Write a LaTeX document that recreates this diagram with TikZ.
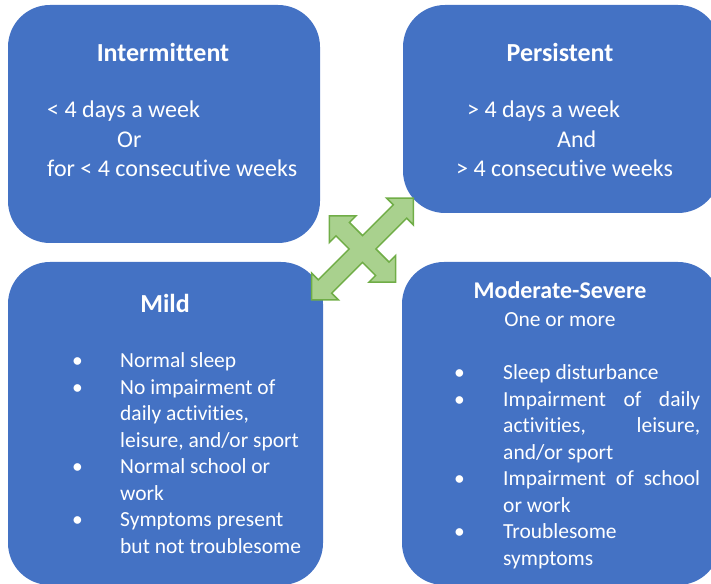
\documentclass[tikz,border=0pt]{standalone}
\usepackage{fontspec}
\setmainfont{Carlito}[Ligatures=NoCommon]
\usepackage{tikz}
\definecolor{boxblue}{RGB}{68,114,196}
\definecolor{arrowfill}{RGB}{169,209,142}
\definecolor{arrowline}{RGB}{112,173,71}
\tikzset{x=1pt, y=1pt, % one unit is one pixel of the page
catbox/.style={rectangle, rounded corners=42pt, fill=boxblue, inner sep=0pt}, % the four blue boxes
title/.style={text=white, font=\fontsize{26}{31}\selectfont\bfseries, anchor=base}, % box headings
body/.style={text=white, font=\fontsize{24}{29.5}\selectfont, anchor=base west, inner sep=0pt}, % lines of the upper boxes
listtext/.style={text=white, font=\fontsize{21.5}{26.5}\selectfont, anchor=base west, inner sep=0pt}, % bullet lists
bigarrow/.style={fill=arrowfill, draw=arrowline, line width=1.5pt, line join=miter}, % the green four way arrow
}

\begin{document}
\begin{tikzpicture}
\useasboundingbox (0,0) rectangle (711,583);

% boxes
\node[catbox, minimum width=312pt, minimum height=238pt] (intermittentbox) at (164,459) {};
\node[catbox, minimum width=317pt, minimum height=208pt] (persistentbox) at (561.5,474) {};
\node[catbox, minimum width=315pt, minimum height=323pt] (mildbox) at (165.5,159.5) {};
\node[catbox, minimum width=318pt, minimum height=323pt] (severebox) at (561,159.5) {};

% upper boxes
\node[title] (intermittenttitle) at (163,521) {Intermittent};
\node[body] (intermittenttext) at (47,465) {\begin{tabular}[t]{@{}l@{}}
< 4 days a week\\
\hspace*{70pt}Or\\
for < 4 consecutive weeks
\end{tabular}};

\node[title] (persistenttitle) at (560,521) {Persistent};
\node[body] (persistenttext) at (456,465) {\begin{tabular}[t]{@{}l@{}}
\hspace*{11pt}> 4 days a week\\
\hspace*{101pt}And\\
> 4 consecutive weeks
\end{tabular}};

% lower boxes
\node[title] (mildtitle) at (165,270) {Mild};
\node[listtext] (mildlist) at (72,215) {\begin{tabular}[t]{@{}p{48pt}@{}l@{}}
\textbullet & Normal sleep\\
\textbullet & No impairment of\\
 & daily activities,\\
 & leisure, and/or sport\\
\textbullet & Normal school or\\
 & work\\
\textbullet & Symptoms present\\
 & but not troublesome
\end{tabular}};

\node[title, font=\fontsize{24}{29}\selectfont\bfseries] (severetitle) at (560,284) {Moderate-Severe};
\node[listtext, anchor=base] (severenote) at (560,256) {One or more};
\node[listtext] (severelist) at (454,203) {\begin{tabular}[t]{@{}p{49pt}@{}l@{}}
\textbullet & Sleep disturbance\\
\textbullet & \makebox[197pt][s]{Impairment of daily}\\
 & \makebox[197pt][s]{activities, leisure,}\\
 & and/or sport\\
\textbullet & \makebox[197pt][s]{Impairment of school}\\
 & or work\\
\textbullet & Troublesome\\
 & symptoms
\end{tabular}};

% arrow between the boxes
\begin{scope}[shift={(362.5,334)}, rotate=45]
\draw[bigarrow] (72,0) -- (53,19) -- (53,9.5) -- (9.5,9.5) -- (9.5,28) -- (19,28) -- (0,47)
  -- (-19,28) -- (-9.5,28) -- (-9.5,9.5) -- (-53,9.5) -- (-53,19) -- (-72,0)
  -- (-53,-19) -- (-53,-9.5) -- (-9.5,-9.5) -- (-9.5,-28) -- (-19,-28) -- (0,-47)
  -- (19,-28) -- (9.5,-28) -- (9.5,-9.5) -- (53,-9.5) -- (53,-19) -- cycle;
\end{scope}

\end{tikzpicture}
\end{document}
